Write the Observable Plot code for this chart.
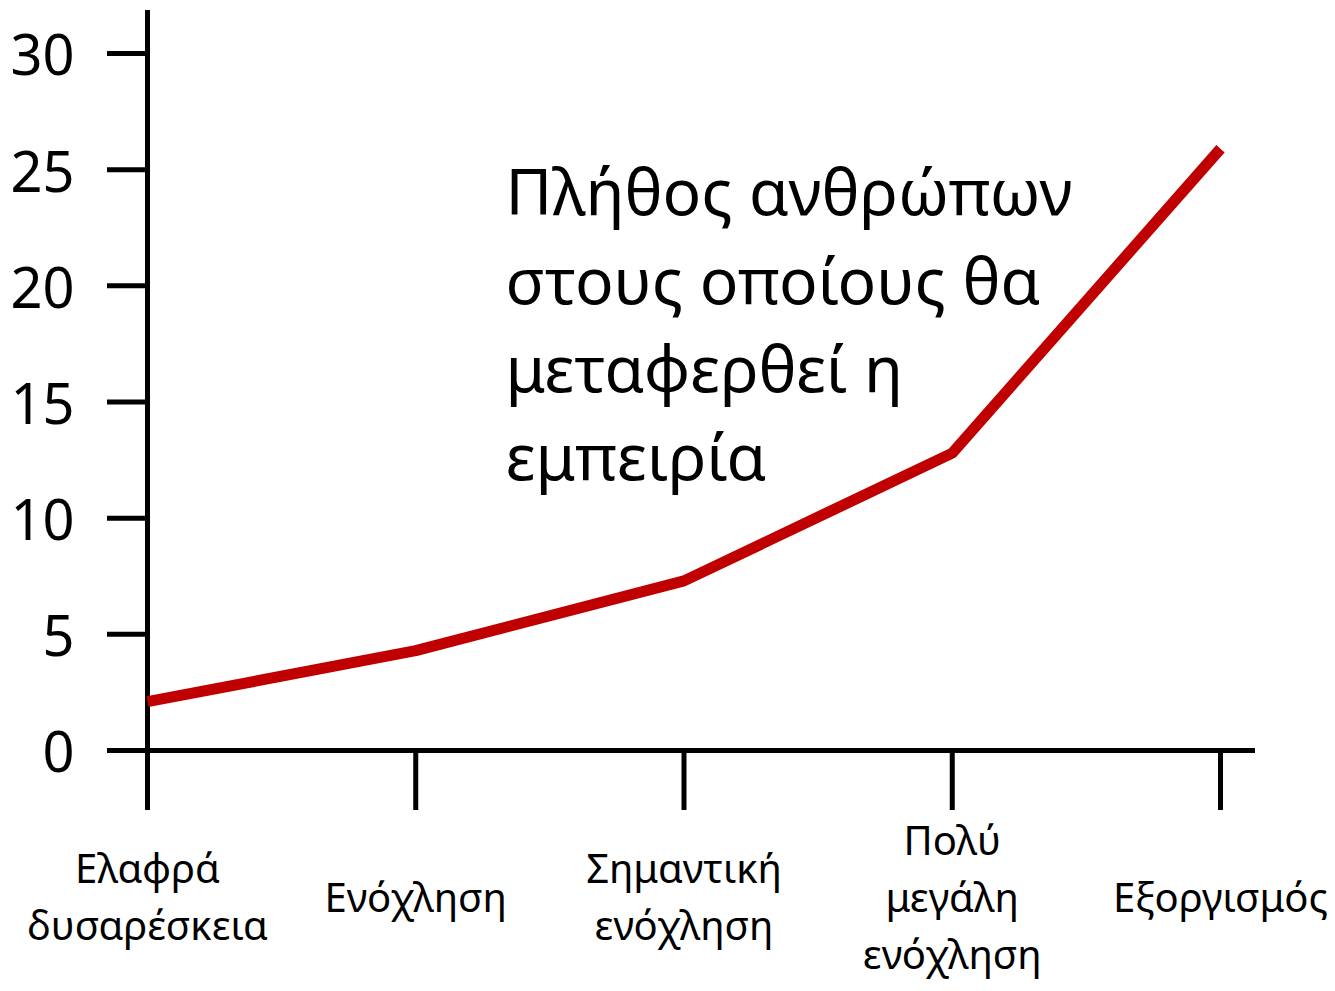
<!DOCTYPE html>
<html><head><meta charset="utf-8">
<script src="https://cdn.jsdelivr.net/npm/d3@7"></script>
<script src="https://cdn.jsdelivr.net/npm/@observablehq/plot@0.6"></script>
<style>body{margin:0;background:#fff}</style>
</head><body><div id="chart"></div>
<script>
const categories = ["Ελαφρά\nδυσαρέσκεια", "Ενόχληση", "Σημαντική\nενόχληση", "Πολύ\nμεγάλη\nενόχληση", "Εξοργισμός"];
const values = [2.1, 4.3, 7.3, 12.8, 25.9];
const yTicks = [0, 5, 10, 15, 20, 25, 30];
const annotation = "Πλήθος ανθρώπων\nστους οποίους θα\nμεταφερθεί η\nεμπειρία";
const data = categories.map((c, i) => ({i, c, v: values[i]}));

const chart = Plot.plot({
  width: 1335, height: 991,
  marginLeft: 147, marginRight: 115, marginTop: 53, marginBottom: 241,
  style: {fontFamily: "'Noto Sans', sans-serif", background: "#fff", color: "#000"},
  x: {type: "linear", domain: [0, 4], axis: null, label: null},
  y: {domain: [0, 30], axis: null, label: null},
  marks: [
    Plot.axisY({ticks: yTicks, label: null, tickSize: 40, strokeWidth: 5, tickFormat: () => ""}),
    Plot.axisY({ticks: yTicks, label: null, tickSize: 0, tickPadding: 73, fontSize: 56, dy: 4, tickFormat: d => String(d)}),
    Plot.axisX({ticks: [0, 1, 2, 3, 4], label: null, tickSize: 60, strokeWidth: 5, tickFormat: () => ""}),
    Plot.ruleX([0], {stroke: "#000", strokeWidth: 5, insetTop: -43, insetBottom: -52}),
    Plot.ruleY([0], {stroke: "#000", strokeWidth: 5, insetLeft: -39, insetRight: -35}),
    Plot.line(data, {x: "i", y: "v", stroke: "#C00000", strokeWidth: 11, strokeLinecap: "butt"}),
    Plot.text(data, {x: "i", text: "c", frameAnchor: "bottom", dy: 143, lineAnchor: "middle", fontSize: 40, lineHeight: 1.43, fill: "#000"}),
    Plot.text([annotation], {frameAnchor: "top-left", dx: 358, dy: 99, textAnchor: "start", lineAnchor: "top", fontSize: 64, lineHeight: 1.38, fill: "#000"})
  ]
});
document.getElementById("chart").append(chart);
</script>
</body></html>
